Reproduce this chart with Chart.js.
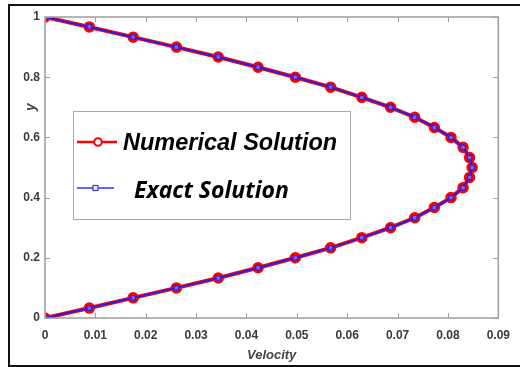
<!DOCTYPE html>
<html lang="en">
<head>
    <meta charset="UTF-8">
    <title>Velocity profile</title>
    <script src="https://cdn.jsdelivr.net/npm/chart.js"></script>
    <style>
        body {
            margin: 0;
            background: #fff;
            font-family: "Liberation Sans", Arial, sans-serif;
        }

        #wrap {
            position: relative;
            width: 520px;
            height: 367px;
            overflow: hidden;
        }

        #frame {
            position: absolute;
            left: 8px;
            top: 4px;
            width: 600px;
            height: 359px;
            border: 2px solid #111;
            border-right: none;
        }

        #yTitle {
            position: absolute;
            left: 22px;
            top: 99px;
            width: 16px;
            height: 16px;
            line-height: 16px;
            text-align: center;
            transform: rotate(-90deg);
            font: italic bold 14px "Liberation Sans", Arial, sans-serif;
            color: #444;
        }

        #legend {
            position: absolute;
            left: 73px;
            top: 111px;
            width: 276px;
            height: 107px;
            border: 1px solid #a8a8a8;
            background: #fff;
        }

        .row {
            position: absolute;
            left: 3px;
            height: 26px;
        }

        .row svg {
            position: absolute;
            left: 0;
            top: 0;
        }

        .row span {
            position: absolute;
            top: 0;
            line-height: 26px;
            white-space: nowrap;
            color: #000;
        }
    </style>
</head>
<body>
<div id="wrap">
    <div id="frame"></div>
    <canvas id="profileChart" width="520" height="367"></canvas>
    <div id="yTitle">y</div>
    <div id="legend">
        <div class="row" style="top: 17px;">
            <svg width="42" height="26">
                <line x1="0" y1="13" x2="40" y2="13" stroke="#ff0000" stroke-width="2.5"/>
                <circle cx="21" cy="13" r="3.8" fill="#fff" stroke="#ff0000" stroke-width="2"/>
            </svg>
            <span style="left: 46px; font: italic bold 23.5px 'Liberation Sans', Arial, sans-serif;">Numerical Solution</span>
        </div>
        <div class="row" style="top: 63px;">
            <svg width="42" height="26">
                <line x1="0" y1="13" x2="37" y2="13" stroke="#3333ff" stroke-width="1.3"/>
                <rect x="16" y="10.5" width="5" height="5" fill="#fff" stroke="#3333ff" stroke-width="1.2"/>
            </svg>
            <span style="left: 57px; top: -2px; font: italic bold 23px 'Open Sans', sans-serif;">Exact Solution</span>
        </div>
    </div>
</div>

<script>
// y positions (channel height) and velocity values
const yValues = [0, 0.033, 0.067, 0.1, 0.133, 0.167, 0.2, 0.233, 0.267, 0.3, 0.333,
    0.367, 0.4, 0.433, 0.467, 0.5, 0.533, 0.567, 0.6, 0.633, 0.667,
    0.7, 0.733, 0.767, 0.8, 0.833, 0.867, 0.9, 0.933, 0.967, 1];
const numericalVelocity = [0, 0.0088, 0.0175, 0.0261, 0.0344, 0.0423, 0.0497, 0.0567, 0.0629, 0.0686, 0.0734,
    0.0773, 0.0806, 0.0830, 0.0843, 0.0848, 0.0843, 0.0830, 0.0806, 0.0773, 0.0734,
    0.0686, 0.0629, 0.0567, 0.0497, 0.0423, 0.0344, 0.0261, 0.0175, 0.0088, 0];
const exactVelocity = [0, 0.0088, 0.0175, 0.0261, 0.0344, 0.0423, 0.0497, 0.0567, 0.0629, 0.0686, 0.0734,
    0.0773, 0.0806, 0.0830, 0.0843, 0.0848, 0.0843, 0.0830, 0.0806, 0.0773, 0.0734,
    0.0686, 0.0629, 0.0567, 0.0497, 0.0423, 0.0344, 0.0261, 0.0175, 0.0088, 0];

const xTicks = [0, 0.01, 0.02, 0.03, 0.04, 0.05, 0.06, 0.07, 0.08, 0.09];
const yTicks = [0, 0.2, 0.4, 0.6, 0.8, 1];

function toPoints(xs) {
    return xs.map((x, i) => ({ x: x, y: yValues[i] }));
}

// box around the plot with inward tick marks (matlab style)
const boxTicks = {
    id: 'boxTicks',
    afterDraw(chart) {
        const { ctx, chartArea: a, scales } = chart;
        ctx.save();
        ctx.strokeStyle = '#9c9c9c';
        ctx.lineWidth = 1;
        ctx.beginPath();
        xTicks.forEach(v => {
            const px = Math.round(scales.x.getPixelForValue(v)) + 0.5;
            ctx.moveTo(px, a.bottom); ctx.lineTo(px, a.bottom - 5);
            ctx.moveTo(px, a.top); ctx.lineTo(px, a.top + 5);
        });
        yTicks.forEach(v => {
            const py = Math.round(scales.y.getPixelForValue(v)) + 0.5;
            ctx.moveTo(a.left, py); ctx.lineTo(a.left + 5, py);
            ctx.moveTo(a.right, py); ctx.lineTo(a.right - 5, py);
        });
        ctx.stroke();
        ctx.lineWidth = 1.5;
        ctx.strokeRect(a.left, a.top, a.right - a.left, a.bottom - a.top);
        ctx.restore();
    }
};

const tickFont = { family: '"Liberation Sans", Arial, sans-serif', size: 12, weight: 'bold' };

new Chart(document.getElementById('profileChart'), {
    type: 'scatter',
    data: {
        datasets: [{
            label: 'Numerical Solution',
            data: toPoints(numericalVelocity),
            showLine: true,
            borderColor: '#ff0000',
            borderWidth: 4,
            pointStyle: 'circle',
            pointRadius: 4.5,
            pointBorderWidth: 2.5,
            pointBackgroundColor: '#ff0000',
            pointBorderColor: '#ff0000',
            order: 2
        }, {
            label: 'Exact Solution',
            data: toPoints(exactVelocity),
            showLine: true,
            borderColor: '#2a1fe0',
            borderWidth: 2,
            pointStyle: 'rect',
            pointRadius: 3.2,
            pointBorderWidth: 1.2,
            pointBackgroundColor: '#8a5cf0',
            pointBorderColor: '#2a1fe0',
            order: 1
        }]
    },
    options: {
        responsive: false,
        animation: false,
        layout: { padding: { left: 0, top: 17, right: 14, bottom: 0 } },
        plugins: {
            legend: { display: false },
            tooltip: { enabled: false }
        },
        scales: {
            x: {
                type: 'linear',
                min: 0,
                max: 0.09,
                afterBuildTicks: s => { s.ticks = xTicks.map(v => ({ value: v })); },
                afterFit: s => { s.height = 49; },
                grid: { display: false, drawTicks: false },
                border: { display: false },
                ticks: {
                    font: tickFont,
                    color: '#3a3a3a',
                    padding: 10,
                    maxRotation: 0,
                    callback: v => String(v)
                },
                title: {
                    display: true,
                    text: 'Velocity',
                    color: '#444',
                    font: { family: '"Liberation Sans", Arial, sans-serif', size: 13, weight: 'bold', style: 'italic' },
                    padding: { top: 0, bottom: 4 }
                }
            },
            y: {
                type: 'linear',
                min: 0,
                max: 1,
                afterBuildTicks: s => { s.ticks = yTicks.map(v => ({ value: v })); },
                afterFit: s => { s.width = 45; },
                grid: { display: false, drawTicks: false },
                border: { display: false },
                ticks: {
                    font: tickFont,
                    color: '#3a3a3a',
                    padding: 5,
                    callback: v => String(v)
                }
            }
        }
    },
    plugins: [boxTicks]
});
</script>
</body>
</html>
